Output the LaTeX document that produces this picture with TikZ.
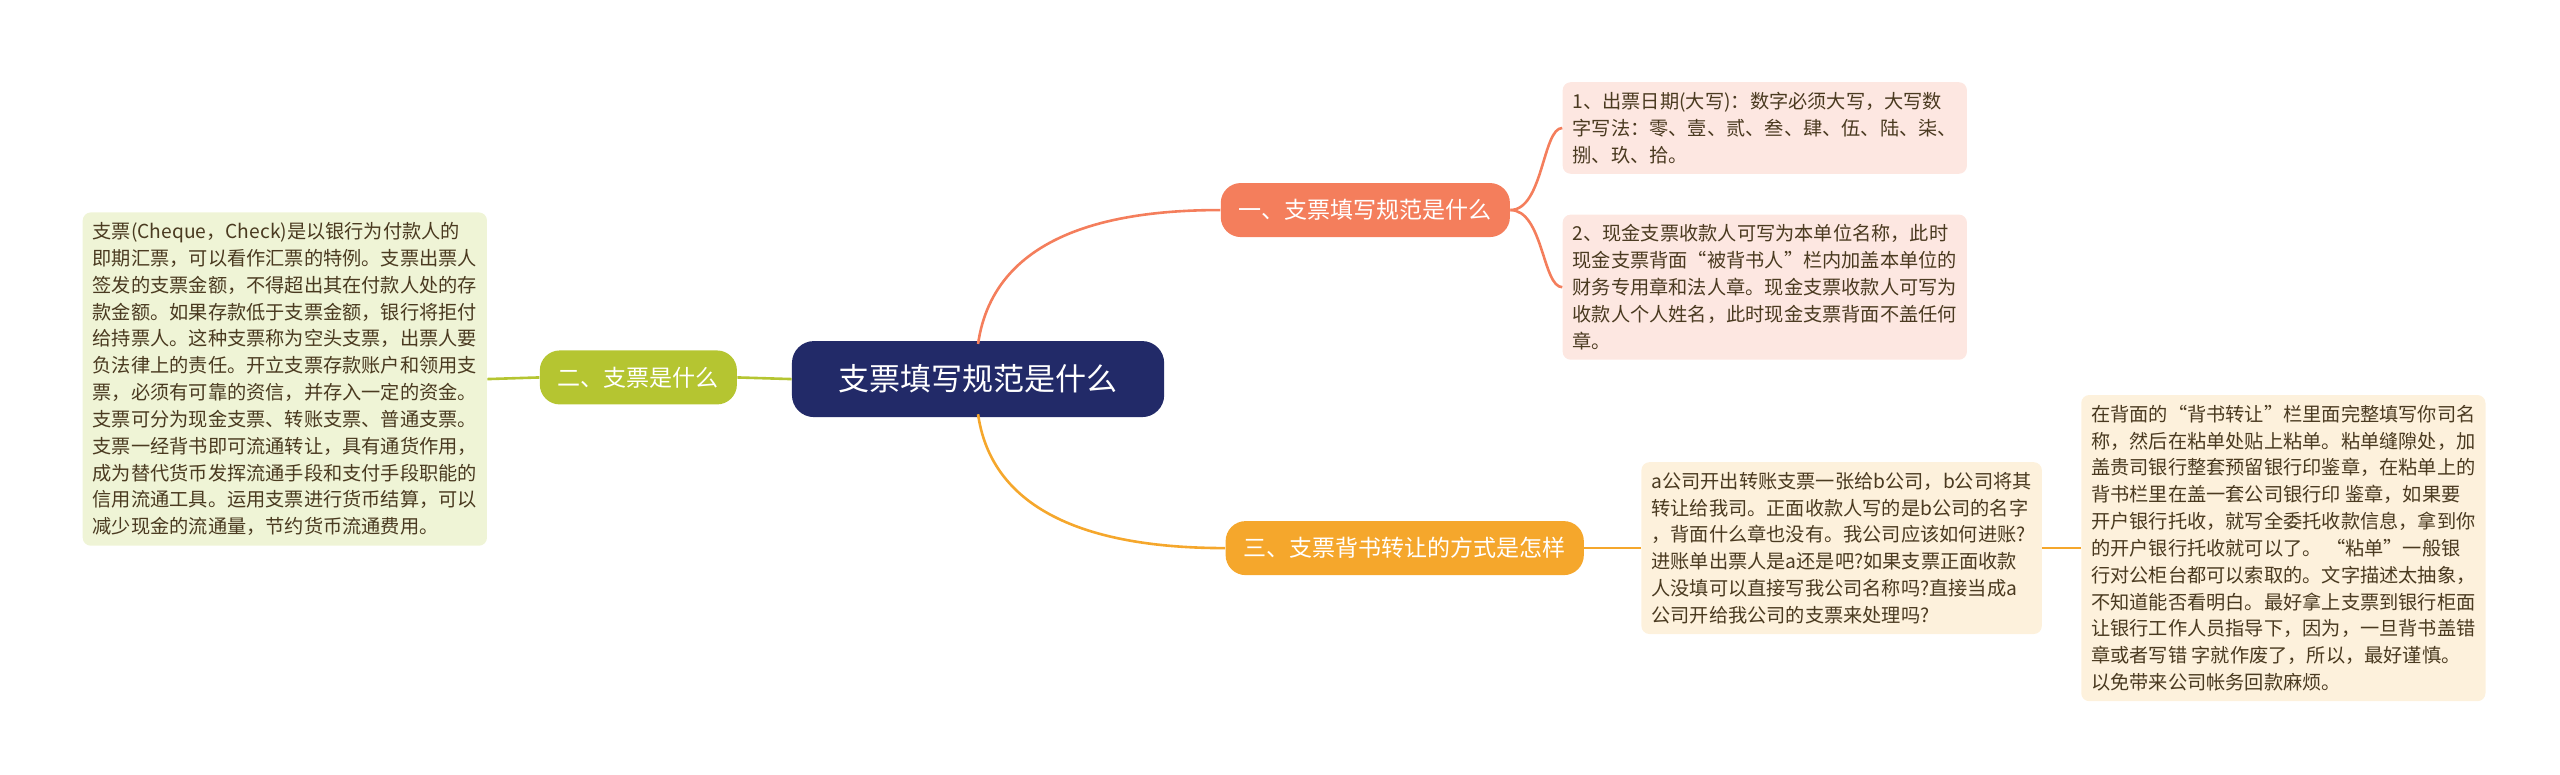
\documentclass[tikz,border=0pt]{standalone}
\usepackage{fontspec}
\setmainfont{Noto Sans CJK SC}
\usetikzlibrary{positioning}
\definecolor{rootc}{HTML}{222A68}
\definecolor{onec}{HTML}{F47E5C}
\definecolor{twoc}{HTML}{B5C531}
\definecolor{threec}{HTML}{F5A72C}
\definecolor{onel}{HTML}{FDE7E1}
\definecolor{twol}{HTML}{EFF4D6}
\definecolor{threel}{HTML}{FDF1DC}
\definecolor{txt}{HTML}{4A3A20}
\tikzset{
  root/.style={fill=rootc, text=white, rounded corners=11pt, minimum width=186pt, minimum height=38pt, font=\fontsize{15.5}{18}\selectfont},
  branch/.style={rounded corners=10pt, minimum height=27pt, inner xsep=9pt, font=\fontsize{11.5}{14}\selectfont, text=#1!40!black},
  leaf/.style={fill=#1, rounded corners=4pt, align=left, inner sep=5pt, text=txt, font=\fontsize{9.6}{13.4}\selectfont},
  link/.style={line width=1.3pt, #1}
}
\begin{document}
\begin{tikzpicture}[x=0.82pt,y=-0.82pt]
  \useasboundingbox (0,0) rectangle (1560,471.7);
  \node[root] (root) at (596,231) {支票填写规范是什么};
  \node[branch=onec, fill=onec, text=white] (one) at (832,128) {一、支票填写规范是什么};
  \node[branch=twoc, fill=twoc, text=white] (two) at (389,230) {二、支票是什么};
  \node[branch=threec, fill=threec, text=white] (three) at (856,334) {三、支票背书转让的方式是怎样};
  \node[leaf=onel, anchor=west] (oneA) at (952,78) {1、出票日期(大写)：数字必须大写，大写数\\字写法：零、壹、贰、叁、肆、伍、陆、柒、\\捌、玖、拾。};
  \node[leaf=onel, anchor=west] (oneB) at (952,175) {2、现金支票收款人可写为本单位名称，此时\\现金支票背面“被背书人”栏内加盖本单位的\\财务专用章和法人章。现金支票收款人可写为\\收款人个人姓名，此时现金支票背面不盖任何\\章。};
  \node[leaf=twol, anchor=east] (twoA) at (297,231) {支票(Cheque，Check)是以银行为付款人的\\即期汇票，可以看作汇票的特例。支票出票人\\签发的支票金额，不得超出其在付款人处的存\\款金额。如果存款低于支票金额，银行将拒付\\给持票人。这种支票称为空头支票，出票人要\\负法律上的责任。开立支票存款账户和领用支\\票，必须有可靠的资信，并存入一定的资金。\\支票可分为现金支票、转账支票、普通支票。\\支票一经背书即可流通转让，具有通货作用，\\成为替代货币发挥流通手段和支付手段职能的\\信用流通工具。运用支票进行货币结算，可以\\减少现金的流通量，节约货币流通费用。};
  \node[leaf=threel, anchor=west] (threeA) at (1000,334) {a公司开出转账支票一张给b公司，b公司将其\\转让给我司。正面收款人写的是b公司的名字\\，背面什么章也没有。我公司应该如何进账?\\进账单出票人是a还是吧?如果支票正面收款\\人没填可以直接写我公司名称吗?直接当成a\\公司开给我公司的支票来处理吗?};
  \node[leaf=threel, anchor=west] (threeB) at (1268,334) {在背面的“背书转让”栏里面完整填写你司名\\称，然后在粘单处贴上粘单。粘单缝隙处，加\\盖贵司银行整套预留银行印鉴章，在粘单上的\\背书栏里在盖一套公司银行印 鉴章，如果要\\开户银行托收，就写全委托收款信息，拿到你\\的开户银行托收就可以了。 “粘单”一般银\\行对公柜台都可以索取的。文字描述太抽象，\\不知道能否看明白。最好拿上支票到银行柜面\\让银行工作人员指导下，因为，一旦背书盖错\\章或者写错 字就作废了，所以，最好谨慎。\\以免带来公司帐务回款麻烦。};
  \begin{scope}[on background layer/.try]
  \draw[link=onec] (root.north) ++(0,2) .. controls +(10,-70) and +(-60,0) .. (one.west);
  \draw[link=threec] (root.south) ++(0,-2) .. controls +(10,70) and +(-60,0) .. (three.west);
  \draw[link=twoc] (root.west) -- (two.east);
  \draw[link=onec] (one.east) .. controls +(20,0) and +(-12,0) .. (oneA.west);
  \draw[link=onec] (one.east) .. controls +(20,0) and +(-12,0) .. (oneB.west);
  \draw[link=twoc] (two.west) -- (twoA.east);
  \draw[link=threec] (three.east) -- (threeA.west);
  \draw[link=threec] (threeA.east) -- (threeB.west);
  \end{scope}
\end{tikzpicture}
\end{document}
